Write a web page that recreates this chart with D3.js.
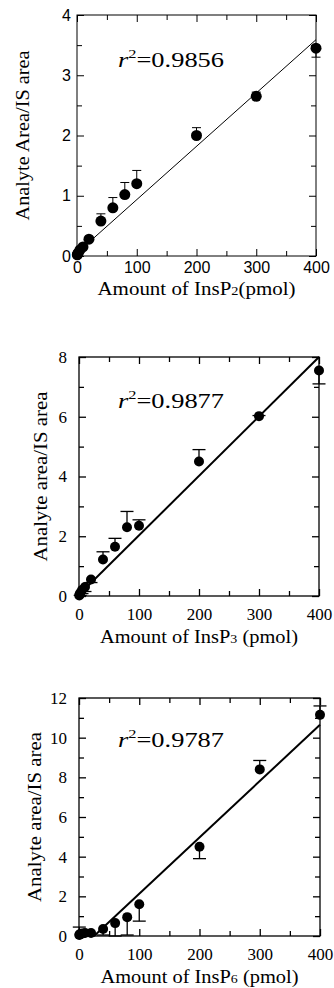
<!DOCTYPE html>
<html>
<head>
<meta charset="utf-8">
<script src="https://cdn.jsdelivr.net/npm/d3@7"></script>
<style>
  body { margin: 0; background: #fff; }
  svg { display: block; }
</style>
</head>
<body>
<svg id="chart"></svg>
<script>

// amounts of standard injected (pmol), shared by all three curves
const amounts = [0.5, 1, 2, 5, 10, 20, 40, 60, 80, 100, 200, 300, 400]

// InsP2
const insP2Ratio = [0.02, 0.03, 0.05, 0.1, 0.15, 0.28, 0.58, 0.8, 1.02, 1.2, 2.0, 2.65, 3.45]
const insP2Err   = [0, 0, 0, 0, 0, 0, 0.12, 0.17, 0.2, 0.22, 0.13, 0.07, -0.15]
const insP2Fit   = {slope: 0.00885, intercept: 0.05, from: 10, to: 400, r2: "0.9856"}

// InsP3
const insP3Ratio = [0.02, 0.05, 0.1, 0.2, 0.3, 0.55, 1.22, 1.65, 2.3, 2.35, 4.5, 6.02, 7.55]
const insP3Err   = [0, 0, -0.08, -0.12, -0.15, -0.1, 0.26, 0.28, 0.53, 0.2, 0.4, 0.02, -0.45]
const insP3Fit   = {slope: 0.0199, intercept: 0.04, from: 0, to: 400, r2: "0.9877"}

// InsP6
const insP6Ratio = [0.05, 0.08, 0.1, 0.12, 0.15, 0.15, 0.35, 0.65, 0.95, 1.6, 4.5, 8.4, 11.15]
const insP6Err   = [0.4, 0, 0, 0, 0, 0, -0.3, -0.65, -0.9, -0.85, -0.6, 0.45, 0.45]
const insP6Fit   = {slope: 0.0284, intercept: -0.71, from: 25, to: 400, r2: "0.9787"}

// tick values
const xTicks = [0, 100, 200, 300, 400]
const xMinorTicks = [50, 150, 250, 350]
const yTicksP2 = [0, 1, 2, 3, 4]
const yMinorP2 = [0.5, 1.5, 2.5, 3.5]
const yTicksP3 = [0, 2, 4, 6, 8]
const yMinorP3 = [1, 3, 5, 7]
const yTicksP6 = [0, 2, 4, 6, 8, 10, 12]
const yMinorP6 = [1, 3, 5, 7, 9, 11]

let svg = d3.select("#chart")
    .attr("width", 334)
    .attr("height", 988)

const SERIF = "'Liberation Serif', 'Times New Roman', serif"
const SANS = "'Liberation Sans', Arial, sans-serif"

function drawPanel(p) {
    let x = d3.scaleLinear().domain([0, 400]).range([p.left, p.right])
    let y = d3.scaleLinear().domain([0, p.yMax]).range([p.bottom, p.top])

    let g = svg.append("g")

    // ticks, all pointing inwards
    function tickAxis(axis, tr, vals, size, labels) {
        let a = g.append("g")
            .attr("transform", tr)
            .call(axis.tickValues(vals).tickSizeInner(-size).tickSizeOuter(0)
                .tickPadding(p.tickPad).tickFormat(labels ? d3.format("d") : ""))
        a.select(".domain").remove()
        a.selectAll("line").attr("stroke", "#000").attr("stroke-width", p.lineW)
        a.selectAll("text")
            .attr("fill", "#000")
            .style("font-family", p.tickFont)
            .style("font-size", p.tickSize + "px")
        return a
    }
    tickAxis(d3.axisBottom(x), `translate(0,${p.bottom})`, xTicks, 7, true)
    tickAxis(d3.axisBottom(x), `translate(0,${p.bottom})`, xMinorTicks, 5, false)
    tickAxis(d3.axisTop(x), `translate(0,${p.top})`, xTicks, 7, false)
    tickAxis(d3.axisTop(x), `translate(0,${p.top})`, xMinorTicks, 5, false)
    tickAxis(d3.axisLeft(y), `translate(${p.left},0)`, p.yTicks, 7, true)
    tickAxis(d3.axisLeft(y), `translate(${p.left},0)`, p.yMinor, 5, false)
    tickAxis(d3.axisRight(y), `translate(${p.right},0)`, p.yTicks, 7, false)
    tickAxis(d3.axisRight(y), `translate(${p.right},0)`, p.yMinor, 5, false)

    // frame
    g.append("rect")
        .attr("x", p.left).attr("y", p.top)
        .attr("width", p.right - p.left).attr("height", p.bottom - p.top)
        .attr("fill", "none").attr("stroke", "#000").attr("stroke-width", p.lineW)

    // fit line
    g.append("line")
        .attr("x1", x(p.fit.from)).attr("y1", y(p.fit.intercept + p.fit.slope * p.fit.from))
        .attr("x2", x(p.fit.to)).attr("y2", y(p.fit.intercept + p.fit.slope * p.fit.to))
        .attr("stroke", "#000").attr("stroke-width", p.fitW)

    let data = amounts.map((a, i) => ({a: a, v: p.values[i], e: p.errors[i]}))

    // error bars
    let eb = g.selectAll("g.err").data(data.filter(d => d.e != 0))
        .enter().append("g").attr("class", "err")
    eb.append("line")
        .attr("x1", d => x(d.a)).attr("x2", d => x(d.a))
        .attr("y1", d => y(d.v)).attr("y2", d => y(d.v + d.e))
        .attr("stroke", "#000").attr("stroke-width", p.lineW)
    eb.append("line")
        .attr("x1", d => x(d.a) - p.capW / 2).attr("x2", d => x(d.a) + p.capW / 2)
        .attr("y1", d => y(d.v + d.e)).attr("y2", d => y(d.v + d.e))
        .attr("stroke", "#000").attr("stroke-width", p.lineW)

    // points
    g.selectAll("circle.pt").data(data)
        .enter().append("circle")
        .attr("class", "pt")
        .attr("cx", d => x(d.a))
        .attr("cy", d => y(d.v))
        .attr("r", p.r)
        .attr("fill", "#000")

    // r squared (the original lettering is stretched sideways)
    let rt = g.append("text")
        .attr("x", p.r2x).attr("y", p.r2y)
        .attr("textLength", 106).attr("lengthAdjust", "spacingAndGlyphs")
        .style("font-family", SERIF).style("font-size", "21px")
    rt.append("tspan").style("font-style", "italic").text("r")
    rt.append("tspan").attr("dy", -9).style("font-size", "13px").text("2")
    rt.append("tspan").attr("dy", 9).text("=" + p.fit.r2)

    // axis titles
    let xt = g.append("text")
        .attr("x", (p.left + p.right) / 2).attr("y", p.xTitleY)
        .attr("text-anchor", "middle")
        .attr("textLength", 198).attr("lengthAdjust", "spacingAndGlyphs")
        .style("font-family", SERIF).style("font-size", "19px")
    xt.append("tspan").text("Amount of InsP")
    xt.append("tspan").style("font-size", "13px").text(p.sub)
    xt.append("tspan").text(p.afterSub)

    g.append("text")
        .attr("transform", `translate(${p.yTitleX},${(p.top + p.bottom) / 2}) rotate(-90)`)
        .attr("text-anchor", "middle")
        .attr("dy", "0.35em")
        .attr("textLength", 170).attr("lengthAdjust", "spacingAndGlyphs")
        .style("font-family", SERIF).style("font-size", "18px")
        .text(p.yTitle)
}

drawPanel({
    left: 77, right: 316, top: 15, bottom: 256, yMax: 4,
    yTicks: yTicksP2, yMinor: yMinorP2,
    values: insP2Ratio, errors: insP2Err, fit: insP2Fit,
    tickFont: SANS, tickSize: 16, tickPad: 6,
    lineW: 1, fitW: 1, capW: 9, r: 5.5,
    r2x: 118, r2y: 67,
    xTitleY: 295, sub: "2", afterSub: "(pmol)",
    yTitleX: 23, yTitle: "Analyte Area/IS area"
})

drawPanel({
    left: 79, right: 319, top: 357, bottom: 596, yMax: 8,
    yTicks: yTicksP3, yMinor: yMinorP3,
    values: insP3Ratio, errors: insP3Err, fit: insP3Fit,
    tickFont: SERIF, tickSize: 17, tickPad: 12,
    lineW: 1.3, fitW: 2, capW: 13, r: 5,
    r2x: 118, r2y: 408,
    xTitleY: 643, sub: "3", afterSub: " (pmol)",
    yTitleX: 41, yTitle: "Analyte area/IS area"
})

drawPanel({
    left: 79, right: 320, top: 698, bottom: 936, yMax: 12,
    yTicks: yTicksP6, yMinor: yMinorP6,
    values: insP6Ratio, errors: insP6Err, fit: insP6Fit,
    tickFont: SERIF, tickSize: 17, tickPad: 12,
    lineW: 1.3, fitW: 2, capW: 13, r: 5,
    r2x: 118, r2y: 747,
    xTitleY: 983, sub: "6", afterSub: " (pmol)",
    yTitleX: 35, yTitle: "Analyte area/IS area"
})

</script>
</body>
</html>
